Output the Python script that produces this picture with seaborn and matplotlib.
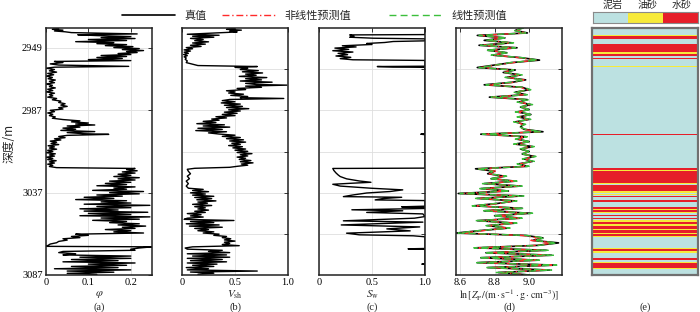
import numpy as np
import pandas as pd
import matplotlib
matplotlib.use("Agg")
import matplotlib.pyplot as plt
import seaborn as sns
from matplotlib.colors import ListedColormap
from matplotlib.lines import Line2D

# ---------------- data ----------------
# (a) porosity
a_depth = [2937.3, 2937.8, 2938.3, 2938.8, 2939.3, 2939.8, 2940.6, 2941.1, 2941.6, 2942.2,
           2942.8, 2943.4, 2944.0, 2944.6, 2945.3, 2945.9, 2946.5, 2947.1, 2947.7, 2948.3,
           2948.9, 2949.5, 2950.1, 2950.7, 2951.3, 2951.9, 2952.5, 2953.1, 2953.7, 2954.3,
           2954.9, 2955.5, 2956.2, 2956.8, 2957.3, 2958.0, 2958.8, 2959.5, 2960.3, 2960.8,
           2961.4, 2962.2, 2963.0, 2963.8, 2964.6, 2965.4, 2966.2, 2967.0, 2967.8, 2968.6,
           2969.4, 2970.2, 2971.0, 2971.8, 2972.6, 2973.4, 2974.2, 2975.0, 2975.8, 2976.6,
           2977.4, 2978.2, 2979.0, 2979.8, 2980.6, 2981.4, 2982.2, 2983.0, 2983.8, 2984.6,
           2985.4, 2986.2, 2987.0, 2987.8, 2988.6, 2989.4, 2990.2, 2991.0, 2991.8, 2992.6,
           2993.4, 2994.0, 2994.7, 2995.3, 2995.9, 2996.5, 2997.2, 2997.8, 2998.5, 2999.2,
           2999.9, 3000.5, 3001.2, 3001.6, 3002.2, 3002.9, 3003.6, 3004.3, 3005.0, 3005.7,
           3006.4, 3007.1, 3007.8, 3008.5, 3009.2, 3009.9, 3010.6, 3011.3, 3012.0, 3012.7,
           3013.4, 3014.1, 3014.8, 3015.5, 3016.2, 3016.9, 3017.6, 3018.3, 3019.0, 3019.7,
           3020.4, 3021.1, 3021.8, 3022.3, 3023.0, 3023.7, 3024.4, 3025.1, 3025.8, 3026.5,
           3027.2, 3027.9, 3028.6, 3029.3, 3030.0, 3030.7, 3031.4, 3032.1, 3032.8, 3033.5,
           3034.2, 3034.9, 3035.6, 3036.3, 3037.0, 3037.7, 3038.4, 3039.1, 3039.8, 3040.5,
           3041.2, 3041.9, 3042.6, 3043.3, 3044.0, 3044.7, 3045.4, 3046.1, 3046.8, 3047.5,
           3048.2, 3048.9, 3049.6, 3050.3, 3051.0, 3051.7, 3052.4, 3053.1, 3053.8, 3054.5,
           3055.2, 3055.9, 3056.6, 3057.3, 3058.0, 3058.7, 3059.4, 3060.1, 3060.8, 3061.5,
           3062.2, 3062.9, 3063.6, 3064.3, 3065.0, 3065.8, 3066.6, 3067.4, 3068.2, 3069.0,
           3069.6, 3069.9, 3070.6, 3071.3, 3072.0, 3072.7, 3073.4, 3074.1, 3074.8, 3075.5,
           3076.2, 3076.9, 3077.6, 3078.3, 3079.0, 3079.7, 3080.4, 3081.1, 3081.8, 3082.5,
           3083.2, 3083.9, 3084.6, 3085.3, 3086.0, 3086.7]
a_phi = [0.03, 0.015, 0.04, 0.02, 0.045, 0.06, 0.215, 0.075, 0.12, 0.20,
         0.13, 0.21, 0.10, 0.19, 0.07, 0.16, 0.12, 0.19, 0.14, 0.205,
         0.16, 0.22, 0.18, 0.23, 0.19, 0.215, 0.17, 0.20, 0.13, 0.19,
         0.12, 0.18, 0.10, 0.20, 0.02, 0.04, 0.01, 0.03, 0.195, 0.02,
         0.0, 0.02, 0.008, 0.025, 0.004, 0.018, 0.0, 0.015, 0.005, 0.022,
         0.008, 0.02, 0.0, 0.015, 0.008, 0.022, 0.004, 0.016, 0.0, 0.02,
         0.008, 0.016, 0.004, 0.025, 0.015, 0.035, 0.03, 0.045, 0.035, 0.05,
         0.03, 0.04, 0.01, 0.02, 0.004, 0.016, 0.008, 0.022, 0.015, 0.04,
         0.08, 0.06, 0.10, 0.07, 0.115, 0.05, 0.08, 0.04, 0.07, 0.035,
         0.115, 0.05, 0.09, 0.148, 0.05, 0.03, 0.045, 0.02, 0.035, 0.01,
         0.025, 0.012, 0.03, 0.005, 0.02, 0.008, 0.025, 0.004, 0.016, 0.0,
         0.022, 0.008, 0.02, 0.0, 0.016, 0.004, 0.024, 0.008, 0.02, 0.004,
         0.016, 0.008, 0.025, 0.21, 0.19, 0.215, 0.18, 0.21, 0.17, 0.20,
         0.16, 0.22, 0.17, 0.21, 0.15, 0.20, 0.14, 0.19, 0.12, 0.21,
         0.16, 0.19, 0.11, 0.23, 0.15, 0.22, 0.12, 0.18, 0.09, 0.16,
         0.07, 0.19, 0.13, 0.20, 0.09, 0.245, 0.12, 0.20, 0.08, 0.17,
         0.09, 0.24, 0.10, 0.20, 0.08, 0.245, 0.13, 0.22, 0.11, 0.19,
         0.15, 0.22, 0.17, 0.235, 0.18, 0.21, 0.14, 0.20, 0.16, 0.23,
         0.07, 0.10, 0.06, 0.08, 0.04, 0.05, 0.03, 0.025, 0.01, 0.005,
         0.0, 0.25, 0.22, 0.20, 0.21, 0.04, 0.03, 0.07, 0.04, 0.20,
         0.08, 0.20, 0.06, 0.17, 0.04, 0.21, 0.10, 0.19, 0.06, 0.17,
         0.02, 0.20, 0.05, 0.16, 0.05, 0.12]

# (b) shale volume
b_depth = [2937.3, 2937.8, 2938.3, 2938.8, 2939.4, 2940.2, 2940.8, 2941.4, 2942.0, 2942.6,
           2943.3, 2944.0, 2944.7, 2945.4, 2946.1, 2946.8, 2947.5, 2948.2, 2948.9, 2949.6,
           2950.3, 2951.0, 2951.7, 2952.4, 2953.1, 2953.8, 2954.5, 2955.2, 2956.0, 2957.0,
           2958.0, 2959.0, 2959.8, 2960.4, 2960.9, 2961.5, 2962.2, 2962.9, 2963.6, 2964.3,
           2965.0, 2965.7, 2966.4, 2967.1, 2967.8, 2968.5, 2969.2, 2969.9, 2970.6, 2971.3,
           2971.7, 2972.3, 2973.0, 2973.7, 2974.4, 2975.1, 2975.8, 2976.5, 2977.2, 2977.9,
           2978.6, 2979.3, 2979.8, 2980.4, 2981.1, 2981.8, 2982.5, 2983.2, 2983.9, 2984.6,
           2985.3, 2986.0, 2986.7, 2987.4, 2988.1, 2988.8, 2989.5, 2990.2, 2990.9, 2991.6,
           2992.3, 2993.0, 2993.7, 2994.4, 2995.1, 2995.8, 2996.5, 2997.2, 2997.9, 2998.6,
           2999.3, 3000.0, 3000.7, 3001.4, 3002.1, 3002.8, 3003.5, 3004.2, 3004.9, 3005.6,
           3006.3, 3007.0, 3007.7, 3008.4, 3009.1, 3009.8, 3010.5, 3011.2, 3011.9, 3012.6,
           3013.3, 3014.0, 3014.7, 3015.4, 3016.1, 3016.8, 3017.5, 3018.2, 3018.9, 3019.6,
           3020.3, 3021.0, 3021.6, 3022.2, 3022.8, 3024.0, 3025.5, 3027.0, 3028.5, 3030.0,
           3031.5, 3033.0, 3034.3, 3035.0, 3035.7, 3036.4, 3037.1, 3037.8, 3038.5, 3039.2,
           3039.9, 3040.6, 3041.3, 3042.0, 3042.7, 3043.4, 3044.1, 3044.8, 3045.5, 3046.2,
           3046.9, 3047.6, 3048.3, 3049.0, 3049.7, 3050.4, 3051.1, 3051.8, 3052.5, 3053.2,
           3053.9, 3054.5, 3055.2, 3055.9, 3056.6, 3057.3, 3058.0, 3058.7, 3059.4, 3060.1,
           3060.8, 3061.5, 3062.2, 3062.9, 3063.6, 3064.3, 3065.0, 3065.7, 3066.4, 3067.1,
           3067.8, 3068.5, 3069.2, 3069.9, 3070.6, 3071.3, 3072.0, 3072.7, 3073.4, 3074.1,
           3074.8, 3075.5, 3076.2, 3076.9, 3077.6, 3078.3, 3079.0, 3079.7, 3080.4, 3081.1,
           3081.8, 3082.5, 3083.2, 3083.9, 3084.6, 3085.2, 3085.9, 3086.6]
b_vsh = [0.50, 0.42, 0.56, 0.45, 0.52, 0.26, 0.05, 0.35, 0.10, 0.30,
         0.08, 0.20, 0.12, 0.25, 0.10, 0.22, 0.08, 0.18, 0.04, 0.10,
         0.02, 0.08, 0.02, 0.06, 0.015, 0.05, 0.02, 0.04, 0.03, 0.05,
         0.04, 0.10, 0.15, 0.71, 0.50, 0.62, 0.55, 0.72, 0.57, 0.76,
         0.60, 0.70, 0.54, 0.80, 0.60, 0.75, 0.55, 0.85, 0.60, 0.70,
         0.99, 0.60, 0.75, 0.52, 0.60, 0.42, 0.50, 0.44, 0.58, 0.46,
         0.62, 0.55, 0.96, 0.45, 0.38, 0.50, 0.37, 0.55, 0.40, 0.57,
         0.42, 0.63, 0.44, 0.55, 0.40, 0.52, 0.38, 0.50, 0.32, 0.42,
         0.28, 0.35, 0.20, 0.32, 0.14, 0.40, 0.20, 0.45, 0.15, 0.38,
         0.13, 0.42, 0.25, 0.35, 0.50, 0.38, 0.55, 0.42, 0.58, 0.45,
         0.60, 0.47, 0.55, 0.44, 0.57, 0.48, 0.60, 0.50, 0.62, 0.52,
         0.66, 0.55, 0.62, 0.52, 0.60, 0.54, 0.65, 0.55, 0.67, 0.56,
         0.62, 0.52, 0.45, 0.12, 0.05, 0.06, 0.08, 0.05, 0.07, 0.04,
         0.06, 0.04, 0.06, 0.20, 0.10, 0.25, 0.08, 0.22, 0.10, 0.30,
         0.12, 0.28, 0.14, 0.32, 0.15, 0.24, 0.10, 0.28, 0.12, 0.22,
         0.15, 0.25, 0.12, 0.22, 0.05, 0.18, 0.08, 0.20, 0.05, 0.02,
         0.49, 0.08, 0.30, 0.04, 0.35, 0.07, 0.38, 0.12, 0.25, 0.15,
         0.30, 0.20, 0.35, 0.30, 0.42, 0.38, 0.46, 0.40, 0.50, 0.40,
         0.45, 0.38, 0.54, 0.10, 0.03, 0.05, 0.38, 0.25, 0.45, 0.05,
         0.42, 0.10, 0.45, 0.05, 0.38, 0.08, 0.42, 0.05, 0.33, 0.10,
         0.30, 0.04, 0.25, 0.05, 0.71, 0.08, 0.30, 0.15]

# (c) water saturation
c_depth = [2937.0, 2941.0, 2941.2, 2942.0, 2942.6, 2943.2, 2943.6, 2944.8, 2945.2, 2945.8,
           2946.4, 2947.0, 2947.8, 2948.5, 2949.2, 2950.0, 2950.8, 2951.6, 2952.4, 2953.2,
           2954.0, 2954.8, 2955.6, 2956.3, 2956.7, 2960.2, 2960.4, 2960.7, 2960.9, 3001.2,
           3001.5, 3001.8, 3022.1, 3022.3, 3023.5, 3025.0, 3026.2, 3027.2, 3028.6, 3029.9,
           3030.7, 3031.3, 3031.9, 3033.0, 3034.3, 3035.3, 3036.3, 3037.2, 3038.4, 3039.4,
           3039.8, 3040.6, 3041.4, 3041.8, 3045.2, 3045.6, 3046.0, 3046.6, 3047.4, 3048.0,
           3049.0, 3049.9, 3051.5, 3052.5, 3054.1, 3054.9, 3056.6, 3057.8, 3059.0, 3060.2,
           3061.6, 3062.6, 3063.2, 3063.8, 3070.9, 3071.1, 3071.4, 3080.2, 3080.4, 3080.6,
           3087.0]
c_sw = [1.0, 1.0, 0.29, 0.33, 0.29, 0.51, 1.0, 1.0, 0.70, 0.62,
        0.45, 0.50, 0.22, 0.35, 0.15, 0.28, 0.13, 0.32, 0.18, 0.27,
        0.16, 0.30, 0.20, 0.32, 1.0, 1.0, 0.55, 0.70, 1.0, 1.0,
        0.96, 1.0, 1.0, 0.13, 0.14, 0.16, 0.18, 0.20, 0.26, 0.38,
        0.49, 0.30, 0.13, 0.20, 0.49, 0.79, 0.67, 0.45, 0.32, 0.23,
        0.78, 0.60, 0.53, 1.0, 1.0, 0.78, 1.0, 1.0, 0.31, 0.79,
        0.45, 0.98, 1.0, 0.90, 0.23, 0.98, 0.21, 0.95, 0.64, 0.86,
        0.26, 0.38, 0.89, 1.0, 1.0, 0.84, 1.0, 1.0, 0.97, 1.0,
        1.0]

# (d) ln impedance: true / nonlinear prediction / linear prediction (1.5 m sampling)
d_depth = np.arange(2937.0, 3087.01, 1.5)
d_true = [8.96, 8.92, 8.99, 8.70, 8.86, 8.74, 8.90, 8.71, 8.93, 8.76,
          8.87, 8.79, 8.95, 9.06, 8.90, 8.80, 8.70, 8.92, 8.85, 8.95,
          8.87, 8.98, 8.90, 8.74, 8.96, 9.00, 8.92, 8.98, 8.77, 8.99,
          8.94, 9.01, 8.95, 9.00, 8.93, 9.01, 8.94, 9.00, 8.92, 8.97,
          8.95, 8.97, 9.08, 8.72, 8.98, 8.93, 9.00, 8.92, 9.02, 8.95,
          9.00, 8.96, 9.03, 8.97, 9.02, 8.94, 8.99, 8.69, 8.80, 8.76,
          8.86, 8.78, 8.92, 8.74, 8.95, 8.72, 8.88, 8.59, 8.96, 8.70,
          8.92, 8.82, 8.68, 8.96, 8.74, 9.01, 8.80, 8.95, 8.70, 8.92,
          8.76, 8.88, 8.72, 8.58, 8.98, 9.08, 9.02, 9.17, 9.05, 8.69,
          9.10, 8.75, 9.13, 8.72, 9.05, 8.70, 9.15, 8.76, 9.12, 8.82,
          9.00]
d_nonlin = [8.95, 8.93, 8.98, 8.72, 8.85, 8.76, 8.89, 8.73, 8.91, 8.77,
            8.86, 8.80, 8.94, 9.04, 8.91, 8.81, 8.72, 8.90, 8.86, 8.94,
            8.88, 8.97, 8.91, 8.76, 8.95, 8.99, 8.93, 8.97, 8.79, 8.98,
            8.95, 9.00, 8.96, 8.99, 8.94, 9.00, 8.95, 8.99, 8.93, 8.96,
            8.96, 8.96, 9.06, 8.74, 8.97, 8.94, 8.99, 8.93, 9.01, 8.96,
            8.99, 8.97, 9.02, 8.98, 9.01, 8.95, 8.98, 8.71, 8.81, 8.77,
            8.85, 8.79, 8.91, 8.76, 8.94, 8.74, 8.87, 8.62, 8.94, 8.72,
            8.91, 8.83, 8.70, 8.94, 8.76, 8.99, 8.81, 8.94, 8.72, 8.91,
            8.77, 8.87, 8.74, 8.61, 8.96, 9.06, 9.01, 9.14, 9.04, 8.71,
            9.08, 8.77, 9.11, 8.74, 9.04, 8.72, 9.13, 8.78, 9.10, 8.83,
            8.99]
d_lin = [8.97, 8.91, 8.98, 8.71, 8.87, 8.75, 8.91, 8.72, 8.92, 8.75,
         8.88, 8.78, 8.96, 9.05, 8.89, 8.81, 8.71, 8.91, 8.86, 8.96,
         8.86, 8.97, 8.89, 8.75, 8.97, 9.01, 8.91, 8.99, 8.78, 9.00,
         8.93, 9.02, 8.94, 9.01, 8.92, 9.02, 8.93, 9.01, 8.91, 8.98,
         8.94, 8.98, 9.07, 8.73, 8.99, 8.92, 9.01, 8.91, 9.03, 8.94,
         9.01, 8.95, 9.04, 8.96, 9.03, 8.93, 9.00, 8.70, 8.79, 8.77,
         8.87, 8.77, 8.93, 8.73, 8.96, 8.71, 8.89, 8.60, 8.97, 8.69,
         8.93, 8.81, 8.67, 8.97, 8.73, 9.02, 8.79, 8.96, 8.69, 8.93,
         8.75, 8.89, 8.71, 8.59, 8.99, 9.09, 9.03, 9.16, 9.06, 8.68,
         9.11, 8.74, 9.14, 8.71, 9.06, 8.69, 9.16, 8.75, 9.13, 8.81,
         9.01]

# (e) lithology intervals (top, bottom, code): 0 泥岩, 1 油砂, 2 水砂 ; gaps are 泥岩
e_top = [2941.2, 2941.6, 2943.4, 2946.7, 2951.8, 2952.5, 2955.3, 2960.2, 2960.5, 3001.4,
         3022.2, 3023.1, 3023.7, 3031.2, 3032.4, 3036.2, 3038.0, 3039.0, 3041.4, 3046.0,
         3046.8, 3047.6, 3048.9, 3050.8, 3052.4, 3053.5, 3054.7, 3055.9, 3057.4, 3059.0,
         3059.8, 3061.2, 3062.4, 3063.2, 3070.8, 3071.5, 3072.7, 3076.8, 3079.2, 3080.0,
         3082.8]
e_bot = [2941.6, 2943.4, 2943.9, 2951.8, 2952.5, 2953.8, 2955.9, 2960.5, 2960.8, 3001.7,
         3023.1, 3023.7, 3031.2, 3031.6, 3035.8, 3037.2, 3038.7, 3039.4, 3042.4, 3046.8,
         3047.6, 3048.9, 3049.6, 3051.4, 3052.9, 3054.7, 3055.9, 3057.4, 3059.0, 3059.8,
         3061.2, 3062.4, 3063.2, 3063.9, 3071.5, 3072.7, 3073.4, 3077.8, 3080.0, 3082.8,
         3083.6]
e_code = [1, 2, 1, 2, 1, 2, 2, 1, 2, 2,
          2, 1, 2, 1, 2, 1, 1, 2, 2, 2,
          1, 2, 1, 2, 2, 1, 2, 1, 2, 1,
          2, 1, 2, 1, 1, 2, 1, 2, 1, 2,
          1]
litho_names = ["泥岩", "油砂", "水砂"]
litho_colors = ["#bce1e1", "#f7ea3a", "#e61e29"]

legend_labels = ["真值", "非线性预测值", "线性预测值"]
panel_letters = ["(a)", "(b)", "(c)", "(d)", "(e)"]

# ---------------- style ----------------
sns.set_theme(style="white")
plt.rcParams["font.family"] = ["Liberation Serif", "Noto Sans CJK SC", "DejaVu Sans"]
plt.rcParams["mathtext.fontset"] = "stix"
plt.rcParams["axes.unicode_minus"] = False

W, H = 700, 312
fig = plt.figure(figsize=(7.0, 3.12), dpi=100)
TOP_PX, BOT_PX = 28, 275
CJK = ["Noto Sans CJK SC", "DejaVu Sans"]


def add_ax(x0, w=106):
    return fig.add_axes([x0 / W, 1 - BOT_PX / H, w / W, (BOT_PX - TOP_PX) / H])


def style(ax, xlim, xticks, xticklabels, yticks, ylabels=None, spine="#222222"):
    ax.set_xlim(*xlim)
    ax.set_ylim(3087, 2937)
    ax.set_xticks(xticks)
    ax.set_xticklabels(xticklabels)
    ax.set_yticks(yticks)
    if ylabels is None:
        ax.set_yticklabels([])
    else:
        ax.set_yticklabels(ylabels)
    ax.tick_params(direction="in", length=3, width=0.7, top=True, right=True,
                   labelsize=7.5, pad=2.5, color="#333333", labelcolor="black")
    ax.grid(True, color="#dedede", lw=0.6)
    ax.set_axisbelow(True)
    for s in ax.spines.values():
        s.set_color(spine)
        s.set_linewidth(1.1)
    ax.set_xlabel("")
    ax.set_ylabel("")


def bottom_labels(ax, xlabel, letter, size=8):
    ax.text(0.5, -(295 - BOT_PX) / (BOT_PX - TOP_PX), xlabel, transform=ax.transAxes,
            ha="center", va="center", fontsize=size)
    ax.text(0.5, -(307 - BOT_PX) / (BOT_PX - TOP_PX), letter, transform=ax.transAxes,
            ha="center", va="center", fontsize=7.5)


grid_ticks = [2962, 2987, 3012, 3037, 3062]

# (a)
ax = add_ax(46)
sns.lineplot(x=a_phi, y=a_depth, sort=False, estimator=None, orient="y",
             color="black", lw=1.0, ax=ax)
style(ax, (0, 0.25), [0, 0.1, 0.2], ["0", "0.1", "0.2"],
      [2949, 2987, 3037, 3087], ["2949", "2987", "3037", "3087"])
bottom_labels(ax, r"$\varphi$", panel_letters[0])

# (b)
ax = add_ax(182)
sns.lineplot(x=b_vsh, y=b_depth, sort=False, estimator=None, orient="y",
             color="black", lw=1.0, ax=ax)
style(ax, (0, 1), [0, 0.5, 1.0], ["0", "0.5", "1.0"], grid_ticks)
bottom_labels(ax, r"$V_{\mathrm{sh}}$", panel_letters[1])

# (c)
ax = add_ax(319)
sns.lineplot(x=c_sw, y=c_depth, sort=False, estimator=None, orient="y",
             color="black", lw=1.0, ax=ax)
style(ax, (0, 1), [0, 0.5, 1.0], ["0", "0.5", "1.0"], grid_ticks)
bottom_labels(ax, r"$S_{\mathrm{w}}$", panel_letters[2])

# (d)
ax = add_ax(456)
red = "#ff2a2a"
green = "#3cbf3c"
sns.lineplot(x=d_true, y=d_depth, sort=False, estimator=None, orient="y",
             color="black", lw=1.2, ax=ax)
sns.lineplot(x=d_nonlin, y=d_depth, sort=False, estimator=None, orient="y",
             color=red, lw=1.0, dashes=False, ax=ax, linestyle=(0, (5, 2, 1, 2)))
sns.lineplot(x=d_lin, y=d_depth, sort=False, estimator=None, orient="y",
             color=green, lw=1.0, dashes=False, ax=ax, linestyle=(0, (5, 3)))
style(ax, (8.577, 9.19), [8.6, 8.8, 9.0], ["8.6", "8.8", "9.0"], grid_ticks)
bottom_labels(ax, r"$\mathrm{ln}\,[Z_{\mathrm{P}}/(\mathrm{m\cdot s^{-1}\cdot g\cdot cm^{-3}})]$",
              panel_letters[3], size=7.2)

# (e) lithology column
ax = add_ax(592)
bounds = [2937.0]
codes = []
cur = 2937.0
for t, b, c in zip(e_top, e_bot, e_code):
    if t > cur:
        codes.append(0)
        bounds.append(t)
    codes.append(c)
    bounds.append(b)
    cur = b
if cur < 3087:
    codes.append(0)
    bounds.append(3087.0)
cmap = ListedColormap(litho_colors)
ax.pcolormesh([0, 1], bounds, np.array(codes)[:, None], cmap=cmap, vmin=-0.5, vmax=2.5,
              shading="flat")
ax.set_xlim(0, 1)
ax.set_ylim(3087, 2937)
ax.set_xticks([0.5])
ax.set_xticklabels([])
ax.set_yticks(grid_ticks)
ax.set_yticklabels([])
ax.tick_params(direction="in", length=5, width=1.0, top=True, right=True, color="#666666")
for s in ax.spines.values():
    s.set_color("#707070")
    s.set_linewidth(1.6)
ax.text(0.5, -(307 - BOT_PX) / (BOT_PX - TOP_PX), panel_letters[4], transform=ax.transAxes,
        ha="center", va="center", fontsize=7.5)

# lithology legend bar
lax = fig.add_axes([593 / W, 1 - 22.5 / H, 105 / W, 11 / H])
lax.pcolormesh([0, 1, 2, 3], [0, 1], np.array([[0, 1, 2]]), cmap=cmap, vmin=-0.5, vmax=2.5)
lax.set_xlim(0, 3)
lax.set_ylim(0, 1)
lax.set_xticks([])
lax.set_yticks([])
for s in lax.spines.values():
    s.set_color("#8a8a8a")
    s.set_linewidth(0.8)
for i, name in enumerate(litho_names):
    fig.text([613, 648, 682][i] / W, 1 - 5.2 / H, name, ha="center", va="center",
             fontsize=7.2, family=CJK)

# line legend
handles = [Line2D([], [], color="black", lw=1.2),
           Line2D([], [], color=red, lw=1.0, linestyle=(0, (5, 2, 1, 2))),
           Line2D([], [], color=green, lw=1.0, linestyle=(0, (5, 3)))]
starts = [122, 222, 389]
for h, lab, x0 in zip(handles, legend_labels, starts):
    fig.legend(handles=[h], labels=[lab], loc="center left",
               bbox_to_anchor=(x0 / W, 1 - 16 / H), frameon=False,
               handlelength=4.8, handletextpad=0.8, borderpad=0, borderaxespad=0,
               prop={"family": CJK, "size": 8})

# y label
fig.text(9 / W, 1 - 143 / H, "深度/m", rotation=90, ha="center", va="center",
         fontsize=8.5, family=CJK)

fig.savefig("out.png", dpi=100)
